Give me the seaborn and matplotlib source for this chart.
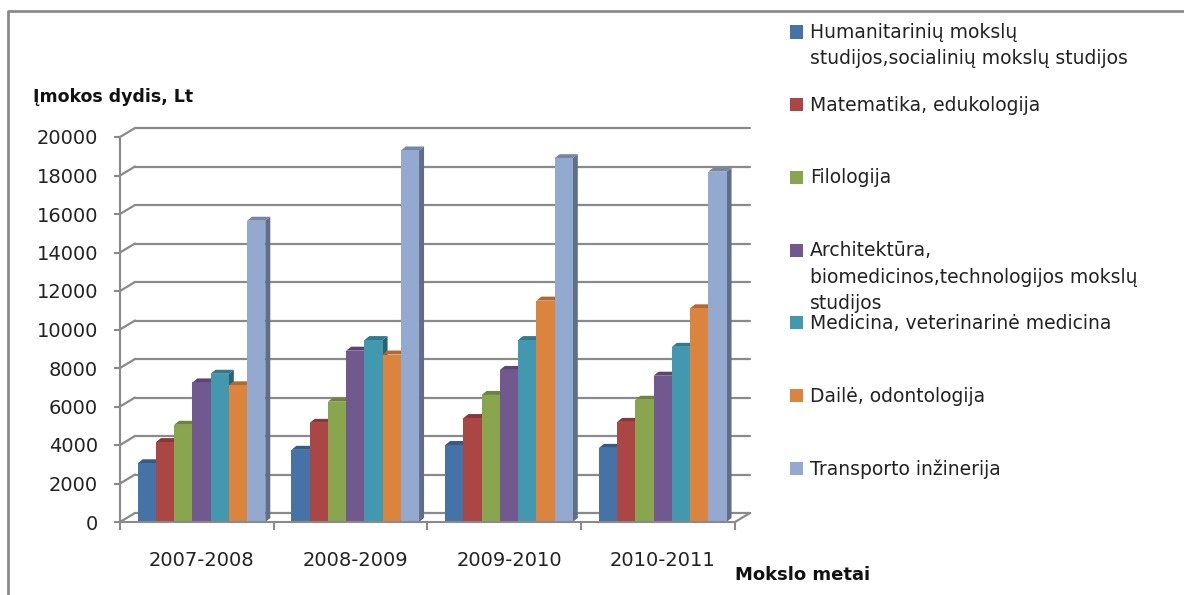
import matplotlib.pyplot as plt
import matplotlib.colors as mcolors
import pandas as pd
import seaborn as sns
from matplotlib.lines import Line2D
from matplotlib.patches import Polygon, Rectangle
from matplotlib.transforms import IdentityTransform, ScaledTranslation

years = ["2007-2008", "2008-2009", "2009-2010", "2010-2011"]
fields = [
    "Humanitarinių mokslų\nstudijos,socialinių mokslų studijos",
    "Matematika, edukologija",
    "Filologija",
    "Architektūra,\nbiomedicinos,technologijos mokslų\nstudijos",
    "Medicina, veterinarinė medicina",
    "Dailė, odontologija",
    "Transporto inžinerija",
]
humanitariniu = [3050, 3750, 4000, 3850]
matematika = [4150, 5150, 5400, 5200]
filologija = [5050, 6250, 6600, 6350]
architektura = [7250, 8900, 7900, 7600]
medicina = [7700, 9450, 9450, 9100]
daile = [7100, 8700, 11500, 11100]
transportas = [15650, 19300, 18900, 18200]
colors = ["#4572A7", "#AA4643", "#89A54E", "#71588F", "#4198AF", "#DB843D", "#93A9CF"]

series = [humanitariniu, matematika, filologija, architektura, medicina, daile, transportas]
df = pd.DataFrame(
    [(y, f, v) for f, vals in zip(fields, series) for y, v in zip(years, vals)],
    columns=["metai", "sritis", "imoka"],
)

sns.set_style("white")
plt.rcParams["font.family"] = ["DejaVu Sans"]

W, H = 1184, 595
GRAY = "#8a8a8a"
fig = plt.figure(figsize=(W / 100, H / 100), dpi=100)
ax = fig.add_axes([120 / W, (H - 522) / H, 615 / W, 385 / H])

sns.barplot(data=df, x="metai", y="imoka", hue="sritis", order=years,
            hue_order=fields, palette=colors, width=0.83, saturation=1,
            errorbar=None, legend=False, linewidth=0, ax=ax)
ax.set_xlim(-0.53, 3.47)
ax.set_ylim(0, 20000)
ax.set_yticks(range(0, 20001, 2000))
ax.set_xlabel("")
ax.set_ylabel("")

# axes / ticks
for s in ["top", "right"]:
    ax.spines[s].set_visible(False)
for s in ["left", "bottom"]:
    ax.spines[s].set_color(GRAY)
    ax.spines[s].set_linewidth(1.5)
ax.tick_params(axis="y", which="major", left=True, length=4.3, width=1.5,
               color=GRAY, pad=11.5, labelsize=14, labelcolor="#222222")
ax.set_xticks([-0.53, 0.47, 1.47, 2.47, 3.47], minor=True)
ax.tick_params(axis="x", which="minor", bottom=True, length=5.8, width=1.5, color=GRAY)
ax.tick_params(axis="x", which="major", length=0, pad=21, labelsize=14, labelcolor="#222222")

# pseudo 3D back wall gridlines
dx_wall, dy_wall = 15, 9
off = ScaledTranslation(dx_wall / 100, dy_wall / 100, fig.dpi_scale_trans)
to_px = ax.transData.transform
x_lo, x_hi = ax.get_xlim()
for v in range(0, 20001, 2000):
    ln = ax.axhline(v, color=GRAY, lw=1.6, zorder=0.5)
    ln.set_transform(ln.get_transform() + off)
    ln.set_clip_on(False)
    a = to_px((x_lo, v))
    ax.add_line(Line2D([a[0], a[0] + dx_wall], [a[1], a[1] + dy_wall],
                       transform=IdentityTransform(), color=GRAY, lw=1.6,
                       clip_on=False, zorder=0.5))
b = to_px((x_hi, 0))
ax.add_line(Line2D([b[0], b[0] + dx_wall], [b[1], b[1] + dy_wall],
                   transform=IdentityTransform(), color=GRAY, lw=1.6,
                   clip_on=False, zorder=0.5))


def shade(c, k):
    r, g, bl, _ = mcolors.to_rgba(c)
    return (r * k, g * k, bl * k)


# bar depth faces
dx, dy = 5, 4
bars = sorted(ax.patches, key=lambda p: p.get_x())
for i, p in enumerate(bars):
    x0, y0 = to_px((p.get_x(), 0))
    x1, y1 = to_px((p.get_x() + p.get_width(), p.get_height()))
    fc = p.get_facecolor()
    z = 2 + i * 0.01
    side = Polygon([(x1, y0), (x1 + dx, y0 + dy), (x1 + dx, y1 + dy), (x1, y1)],
                   closed=True, transform=IdentityTransform(),
                   facecolor=shade(fc, 0.65), edgecolor="none", zorder=z, clip_on=False)
    top = Polygon([(x0, y1), (x1, y1), (x1 + dx, y1 + dy), (x0 + dx, y1 + dy)],
                  closed=True, transform=IdentityTransform(),
                  facecolor=shade(fc, 0.8), edgecolor="none", zorder=z, clip_on=False)
    ax.add_patch(side)
    ax.add_patch(top)
    p.set_zorder(z + 0.005)

# axis titles
fig.text(33 / W, 1 - 97 / H, "Įmokos dydis, Lt", fontsize=12.5,
         fontweight="bold", va="center", ha="left", color="#111111")
fig.text(735 / W, 1 - 575 / H, "Mokslo metai", fontsize=13,
         fontweight="bold", va="center", ha="left", color="#111111")

# legend
for i, (label, c) in enumerate(zip(fields, colors)):
    yc = 32 + i * 72.7
    fig.add_artist(Rectangle((790 / W, 1 - (yc + 6.5) / H), 13 / W, 13 / H,
                             transform=fig.transFigure, facecolor=c,
                             edgecolor="none"))
    fig.text(810 / W, 1 - (yc - 9) / H, label, fontsize=13.5, va="top",
             ha="left", linespacing=1.5, color="#222222")

# outer chart border (left and top)
fig.add_artist(Line2D([8 / W, 8 / W, 1.0], [0.0, 1 - 11 / H, 1 - 11 / H],
                      transform=fig.transFigure, color=GRAY, lw=2))

fig.savefig("out.png", dpi=100)
